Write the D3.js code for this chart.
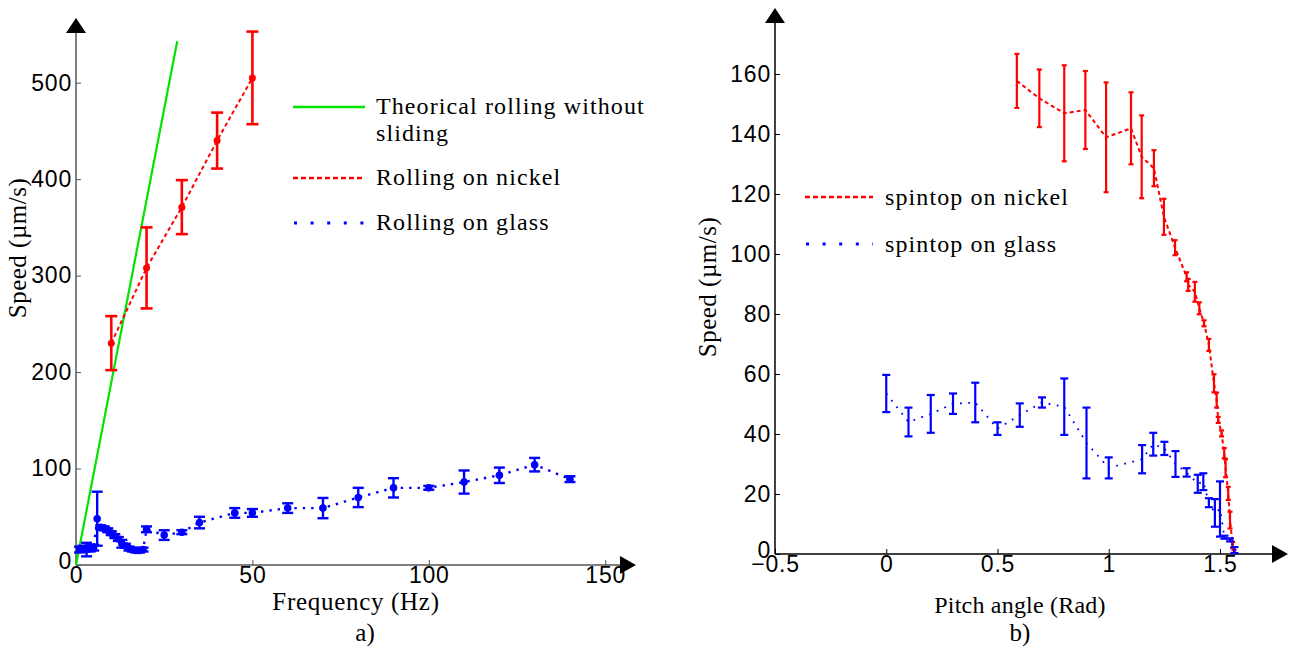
<!DOCTYPE html>
<html><head><meta charset="utf-8">
<script src="https://cdn.jsdelivr.net/npm/d3@7"></script>
<style>
html,body{margin:0;padding:0;background:#fff;}
.tick-label{font-family:"Liberation Sans",Arial,sans-serif;font-size:23px;letter-spacing:0.8px;fill:#000;}
.serif{font-family:"Liberation Serif","Times New Roman",serif;fill:#000;}
</style></head>
<body>
<svg id="chart" width="1290" height="650"></svg>
<script>
// ---------- Panel a) data ----------
const aXTicks = [0, 50, 100, 150];
const aYTicks = [0, 100, 200, 300, 400, 500];
const theoryFreq = [0, 28.7];
const theorySpeed = [0, 543];
const nickelFreq = [10, 20, 30, 40, 50];
const nickelSpeed = [230, 308, 371, 440, 505];
const nickelErr = [28, 42, 28, 29, 48];
const glassFreq = [1, 2, 3, 4, 5, 6, 7, 8, 9, 10, 11, 12, 13, 14, 15, 16, 17, 18, 19, 20, 25, 30, 35, 45, 50, 60, 70, 80, 90, 100, 110, 120, 130, 140];
const glassSpeed = [16, 17, 16, 17, 18, 48, 39, 38, 36, 33, 30, 27, 22, 20, 17, 16, 15, 15, 16, 37, 31, 34, 44, 54, 54, 59, 59, 70, 80, 80, 86, 93, 104, 89];
const glassErr = [3, 3, 7, 3, 3, 28, 2, 2, 2, 2, 2, 2, 4, 2, 2, 2, 2, 2, 2, 3, 5, 2, 6, 5, 4, 5, 10.5, 10, 10, 2, 12, 8, 7, 3];
const aLegend = ["Theorical rolling without", "sliding", "Rolling on nickel", "Rolling on glass"];

// ---------- Panel b) data ----------
const bXTicks = [-0.5, 0, 0.5, 1, 1.5];
const bYTicks = [0, 20, 40, 60, 80, 100, 120, 140, 160];
const topNickelPitch = [0.587, 0.688, 0.80, 0.895, 0.988, 1.10, 1.148, 1.203, 1.248, 1.298, 1.35, 1.357, 1.387, 1.407, 1.428, 1.45, 1.473, 1.485, 1.492, 1.507, 1.519, 1.525, 1.537, 1.545, 1.557, 1.563];
const topNickelSpeed = [157.7, 151.9, 146.9, 148, 138.9, 141.9, 132.4, 128.6, 112.4, 102.1, 92.4, 89.7, 87.4, 81.9, 76.9, 69.7, 56.9, 51.3, 44.7, 40.2, 33.6, 28.6, 20.2, 11.3, 3, 0.8];
const topNickelErr = [9, 9.6, 16, 13, 18.3, 12, 13.8, 6, 6, 2.5, 1.5, 2, 3.3, 2, 1, 2, 3, 2.5, 1, 1, 1.7, 3, 2.2, 2.8, 1, 0.5];
const topGlassPitch = [0, 0.1, 0.2, 0.3, 0.4, 0.5, 0.6, 0.7, 0.8, 0.9, 1.0, 1.15, 1.2, 1.25, 1.3, 1.35, 1.40, 1.425, 1.45, 1.477, 1.50, 1.52, 1.545, 1.565];
const topGlassSpeed = [53.5, 44, 46.7, 50.1, 50.5, 41.8, 46.3, 50.5, 49.1, 37, 28.7, 31.6, 36.6, 35.2, 30, 27.2, 23.4, 24.1, 17.1, 13.7, 15, 5.6, 4.7, 1.3];
const topGlassErr = [6.2, 4.8, 6.3, 3.4, 6.6, 2.1, 3.9, 1.7, 9.4, 11.8, 3.5, 4.7, 3.8, 2.2, 4.3, 1.4, 3, 2.8, 1.5, 4.6, 9.2, 0.5, 0.5, 1];
const bLegend = ["spintop on nickel", "spintop on glass"];

const RED = "#ff0000", BLUE = "#0000ff", GREEN = "#00e400";
const svg = d3.select("#chart");

function zip(xs, ys, es) { return xs.map((x, i) => ({x: x, y: ys[i], e: es ? es[i] : 0})); }

function serifText(g, x, y, txt, size, ls, anchor) {
  return g.append("text").attr("class", "serif").attr("x", x).attr("y", y)
    .attr("font-size", size).attr("letter-spacing", ls).attr("text-anchor", anchor || "start").text(txt);
}

function drawAxes(g, x, y, o) {
  const [x0] = x.range(), [y0] = y.range();
  const axisCol = o.axisColor;
  const xa = g.append("g").attr("transform", `translate(0,${y0})`)
    .call(d3.axisBottom(x).tickValues(o.xTicks).tickSize(-5).tickPadding(1).tickFormat(o.xFmt));
  xa.select(".domain").remove();
  xa.selectAll("line").attr("stroke", axisCol);
  xa.selectAll("text").attr("class", "tick-label").attr("dy", "0.72em");
  g.append("line").attr("x1", x(o.xTicks[0])).attr("x2", o.xArrow - 12).attr("y1", y0).attr("y2", y0)
    .attr("stroke", axisCol).attr("stroke-width", 1.5);
  g.append("path").attr("d", `M${o.xArrow},${y0} L${o.xArrow - 16},${y0 - 9} L${o.xArrow - 16},${y0 + 9} Z`).attr("fill", "#000");
  const ya = g.append("g").attr("transform", `translate(${x0},0)`)
    .call(d3.axisLeft(y).tickValues(o.yTicks).tickSize(o.yTickSize).tickPadding(o.yPad).tickFormat(d3.format("d")));
  ya.select(".domain").remove();
  ya.selectAll("line").attr("stroke", axisCol);
  ya.selectAll("text").attr("class", "tick-label").attr("dy", d => d === 0 ? "0.15em" : "0.32em");
  g.append("line").attr("x1", x0).attr("x2", x0).attr("y1", y0).attr("y2", o.yArrow + 12)
    .attr("stroke", axisCol).attr("stroke-width", 1.5);
  g.append("path").attr("d", `M${x0},${o.yArrow} L${x0 - 10},${o.yArrow + 15} L${x0 + 10},${o.yArrow + 15} Z`).attr("fill", "#000");
}

function errorBars(g, data, x, y, color, cap, sw) {
  const eg = g.append("g");
  data.forEach(d => {
    const cx = x(d.x), yt = y(d.y + d.e), yb = y(d.y - d.e);
    eg.append("line").attr("x1", cx).attr("x2", cx).attr("y1", yt).attr("y2", yb).attr("stroke", color).attr("stroke-width", sw);
    eg.append("line").attr("x1", cx - cap).attr("x2", cx + cap).attr("y1", yt).attr("y2", yt).attr("stroke", color).attr("stroke-width", sw);
    eg.append("line").attr("x1", cx - cap).attr("x2", cx + cap).attr("y1", yb).attr("y2", yb).attr("stroke", color).attr("stroke-width", sw);
  });
}

// ================= Panel a =================
{
  const x = d3.scaleLinear().domain([0, 150]).range([76, 76 + 150 * 3.528]);
  const y = d3.scaleLinear().domain([0, 500]).range([565, 82.7]);
  const g = svg.append("g");
  drawAxes(g, x, y, {xTicks: aXTicks, yTicks: aYTicks, xArrow: 636, yArrow: 18, axisColor: "#555",
    yTickSize: -5, yPad: 4, xFmt: d3.format("d")});
  const line = d3.line().x(d => x(d.x)).y(d => y(d.y));
  g.append("path").datum(zip(theoryFreq, theorySpeed)).attr("d", line)
    .attr("stroke", GREEN).attr("stroke-width", 2.2).attr("fill", "none");
  const nk = zip(nickelFreq, nickelSpeed, nickelErr);
  g.append("path").datum(nk).attr("d", line).attr("stroke", RED).attr("stroke-width", 2)
    .attr("stroke-dasharray", "4,3").attr("fill", "none");
  errorBars(g, nk, x, y, RED, 6, 2.6);
  g.selectAll(".nkdot").data(nk).join("circle").attr("cx", d => x(d.x)).attr("cy", d => y(d.y)).attr("r", 3.5).attr("fill", RED);
  const gl = zip(glassFreq, glassSpeed, glassErr);
  g.append("path").datum(gl).attr("d", line).attr("stroke", BLUE).attr("stroke-width", 2.4)
    .attr("stroke-dasharray", "2.4,6").attr("fill", "none");
  errorBars(g, gl, x, y, BLUE, 5.5, 2.4);
  g.selectAll(".gldot").data(gl).join("circle").attr("cx", d => x(d.x)).attr("cy", d => y(d.y)).attr("r", 3.8).attr("fill", BLUE);

  const lg = g.append("g");
  lg.append("line").attr("x1", 293).attr("x2", 365).attr("y1", 107).attr("y2", 107).attr("stroke", GREEN).attr("stroke-width", 2.6);
  serifText(lg, 376, 114, aLegend[0], 24, 1.1);
  serifText(lg, 376, 141, aLegend[1], 24, 1.1);
  lg.append("line").attr("x1", 293).attr("x2", 365).attr("y1", 178).attr("y2", 178).attr("stroke", RED).attr("stroke-width", 2.4).attr("stroke-dasharray", "5,3");
  serifText(lg, 376, 185, aLegend[2], 24, 1.1);
  lg.append("line").attr("x1", 294).attr("x2", 365).attr("y1", 223).attr("y2", 223).attr("stroke", BLUE).attr("stroke-width", 3).attr("stroke-dasharray", "3,13.6");
  serifText(lg, 376, 230, aLegend[3], 24, 1.1);

  serifText(g, 356, 610, "Frequency (Hz)", 25, 0.7, "middle");
  g.append("text").attr("class", "serif").attr("transform", "translate(26,248) rotate(-90)").attr("text-anchor", "middle")
    .attr("font-size", 25).attr("letter-spacing", 0.5).text("Speed (µm/s)");
  serifText(g, 365, 641, "a)", 25, 0, "middle");
}

// ================= Panel b =================
{
  const x = d3.scaleLinear().domain([-0.5, 1.5]).range([775, 1220]);
  const y = d3.scaleLinear().domain([0, 160]).range([554, 74]);
  const g = svg.append("g");
  drawAxes(g, x, y, {xTicks: bXTicks, yTicks: bYTicks, xArrow: 1288, yArrow: 8, axisColor: "#000",
    yTickSize: -5, yPad: 4, xFmt: d => d3.format("")(d).replace("-", "\u2212")});
  const line = d3.line().x(d => x(d.x)).y(d => y(d.y));
  const nk = zip(topNickelPitch, topNickelSpeed, topNickelErr);
  g.append("path").datum(nk).attr("d", line).attr("stroke", RED).attr("stroke-width", 2)
    .attr("stroke-dasharray", "4,3").attr("fill", "none");
  errorBars(g, nk, x, y, RED, 2.5, 2.2);
  const gl = zip(topGlassPitch, topGlassSpeed, topGlassErr);
  g.append("path").datum(gl).attr("d", line).attr("stroke", BLUE).attr("stroke-width", 1.8)
    .attr("stroke-dasharray", "1.8,6.5").attr("fill", "none");
  errorBars(g, gl, x, y, BLUE, 4, 2.2);

  const lg = g.append("g");
  lg.append("line").attr("x1", 805).attr("x2", 873).attr("y1", 197).attr("y2", 197).attr("stroke", RED).attr("stroke-width", 2.4).attr("stroke-dasharray", "5,3");
  serifText(lg, 885, 205, bLegend[0], 24, 1.1);
  lg.append("line").attr("x1", 806).attr("x2", 873).attr("y1", 244).attr("y2", 244).attr("stroke", BLUE).attr("stroke-width", 3).attr("stroke-dasharray", "3,13.6");
  serifText(lg, 885, 252, bLegend[1], 24, 1.1);

  serifText(g, 1020, 613, "Pitch angle (Rad)", 24, 0.2, "middle");
  g.append("text").attr("class", "serif").attr("transform", "translate(716,287) rotate(-90)").attr("text-anchor", "middle")
    .attr("font-size", 25).attr("letter-spacing", 0.5).text("Speed (µm/s)");
  serifText(g, 1020, 641, "b)", 25, 0, "middle");
}
</script>
</body></html>
